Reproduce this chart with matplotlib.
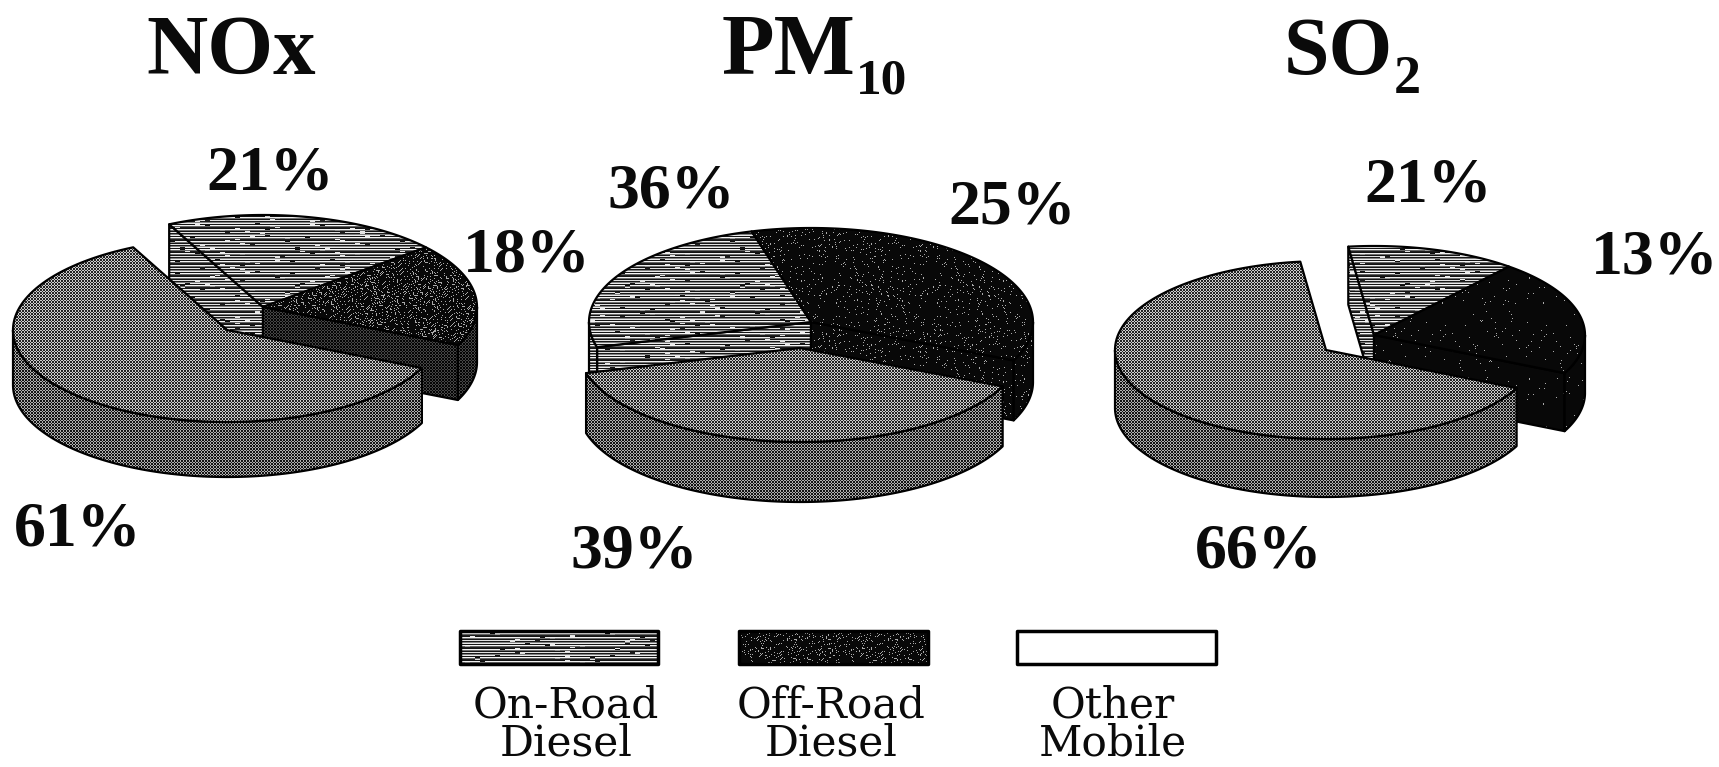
import numpy as np
import matplotlib
matplotlib.use("Agg")
import matplotlib.pyplot as plt
from matplotlib.patches import Polygon

pollutants = ["NOx", "PM", "SO"]
subscripts = ["", "10", "2"]
large_share = [61, 39, 66]
dark_share = [18, 36, 21]
lined_share = [21, 25, 13]
label_nox = ["21%", "18%", "61%"]
label_pm = ["36%", "25%", "39%"]
label_so = ["21%", "13%", "66%"]
legend_lines = [["On-Road", "Diesel"], ["Off-Road", "Diesel"], ["Other", "Mobile"]]

W, H = 1719, 767
fig = plt.figure(figsize=(W / 100, H / 100), dpi=100, facecolor="white")
ax = fig.add_axes([0, 0, 1, 1])
ax.set_xlim(0, W)
ax.set_ylim(H, 0)
ax.axis("off")

yy, xx = np.mgrid[0:H, 0:W]


def stipple(dark, light):
    mask = ((xx + yy) % 3 == 0) | ((xx - yy) % 3 == 0)
    return np.where(mask, dark, light).astype(float)


def lined():
    rows = np.array([20, 240, 110, 20, 225, 25, 130, 235, 20, 245, 100, 30])
    tex = rows[yy % len(rows)].astype(float)
    nick = ((xx // 5 * 31 + yy * yy * 7) % 89) < 4
    return np.where(nick, 255 - tex, tex)


def speckled(thresh, base=8, spot=170):
    h = (xx * xx * 3 + yy * yy * 5 + xx * yy * 11 + xx * 17) % 101
    return np.where(h < thresh, spot, base).astype(float)


_z = [1]


def ax_z():
    _z[0] += 1
    return _z[0]


def fill(poly, tex, lw=1.6):
    im = ax.imshow(tex, cmap="gray", vmin=0, vmax=255, extent=(0, W, H, 0),
                   aspect="auto", interpolation="nearest", zorder=ax_z())
    clip = Polygon(poly, closed=True, transform=ax.transData)
    im.set_clip_path(clip)
    ax.add_patch(Polygon(poly, closed=True, fill=False, edgecolor="black",
                         linewidth=lw, joinstyle="round", zorder=ax_z()))


def arc(cx, cy, rx, ry, t0, t1):
    t = np.radians(np.linspace(t0, t1, 120))
    return np.column_stack([cx + rx * np.cos(t), cy - ry * np.sin(t)])


def draw_slice(cx, cy, rx, ry, depth, t0, t1, top, wall, faces):
    """Draw one extruded pie slice spanning ellipse angles t0..t1."""
    down = np.array([0, depth])
    apex = np.array([cx, cy])
    # radial cut faces that are not shared with a neighbour in the group
    for t in faces:
        p = arc(cx, cy, rx, ry, t, t)[0]
        fill(np.array([apex, p, p + down, apex + down]), wall)
    # outer rim: the part of the slice in the lower half of the ellipse
    for k in range(-1, 2):
        a = max(t0, 180 + 360 * k)
        b = min(t1, 360 + 360 * k)
        if b > a:
            rim = arc(cx, cy, rx, ry, a, b)
            fill(np.vstack([rim, (rim + down)[::-1]]), wall)
    # top face
    fill(np.vstack([apex, arc(cx, cy, rx, ry, t0, t1)]), top)


# one geometry record per pie: large slice and the rest are pulled apart
pie_geometry = [
    dict(big=(227, 330), rest=(263, 307), rx=214, ry=92, depth=55, start=116, dots=14),
    dict(big=(800, 348), rest=(811, 322), rx=222, ry=94, depth=60, start=195.5, dots=4),
    dict(big=(1326, 350), rest=(1374, 335), rx=211, ry=89, depth=58, start=97, dots=1),
]

big_top = stipple(35, 205)
big_wall = stipple(20, 175)
line_tex = lined()

for i, g in enumerate(pie_geometry):
    t0 = g["start"]
    t1 = t0 + large_share[i] * 3.6
    t2 = t1 + dark_share[i] * 3.6
    t3 = t2 + lined_share[i] * 3.6
    rx, ry, d = g["rx"], g["ry"], g["depth"]
    dark_top = speckled(g["dots"])
    dark_wall = stipple(5, 70) if i == 0 else dark_top
    draw_slice(*g["rest"], rx, ry, d, t2, t3, line_tex, line_tex, [t3])
    draw_slice(*g["rest"], rx, ry, d, t1, t2, dark_top, dark_wall, [t1])
    draw_slice(*g["big"], rx, ry, d, t0, t1, big_top, big_wall, [])

# ---- text ----
BOLD = dict(family="Liberation Serif", fontweight="bold", color="#0a0a0a", zorder=500)
ax.text(231, 74, pollutants[0], ha="center", va="baseline", fontsize=61, **BOLD)
ax.text(722, 74, pollutants[1], ha="left", va="baseline", fontsize=62, **BOLD)
ax.text(856, 94, subscripts[1], ha="left", va="baseline", fontsize=37, **BOLD)
ax.text(1284, 74, pollutants[2], ha="left", va="baseline", fontsize=59, **BOLD)
ax.text(1394, 93, subscripts[2], ha="left", va="baseline", fontsize=39, **BOLD)

label_spots = [
    (label_nox, [(270, 189), (527, 272), (78, 545)]),
    (label_pm, [(671, 208), (1012, 223), (634, 567)]),
    (label_so, [(1428, 202), (1655, 273), (1259, 567)]),
]
for texts, spots in label_spots:
    for s, (x, y) in zip(texts, spots):
        ax.text(x, y, s, ha="center", va="baseline", fontsize=46, **BOLD)

# ---- legend ----
swatches = [(460, 658, line_tex), (739, 928, speckled(9)), (1017, 1216, np.full((H, W), 255.0))]
legend_text_x = [566, 831, 1113]
for (x0, x1, tex), lines, xc in zip(swatches, legend_lines, legend_text_x):
    fill(np.array([(x0, 631), (x1, 631), (x1, 664), (x0, 664)]), tex, lw=2.5)
    for s, y in zip(lines, (717, 755)):
        ax.text(xc, y, s, ha="center", va="baseline", fontsize=30.5,
                family="DejaVu Serif", color="#0a0a0a", zorder=500)

fig.savefig("out.png", dpi=100, facecolor="white")
